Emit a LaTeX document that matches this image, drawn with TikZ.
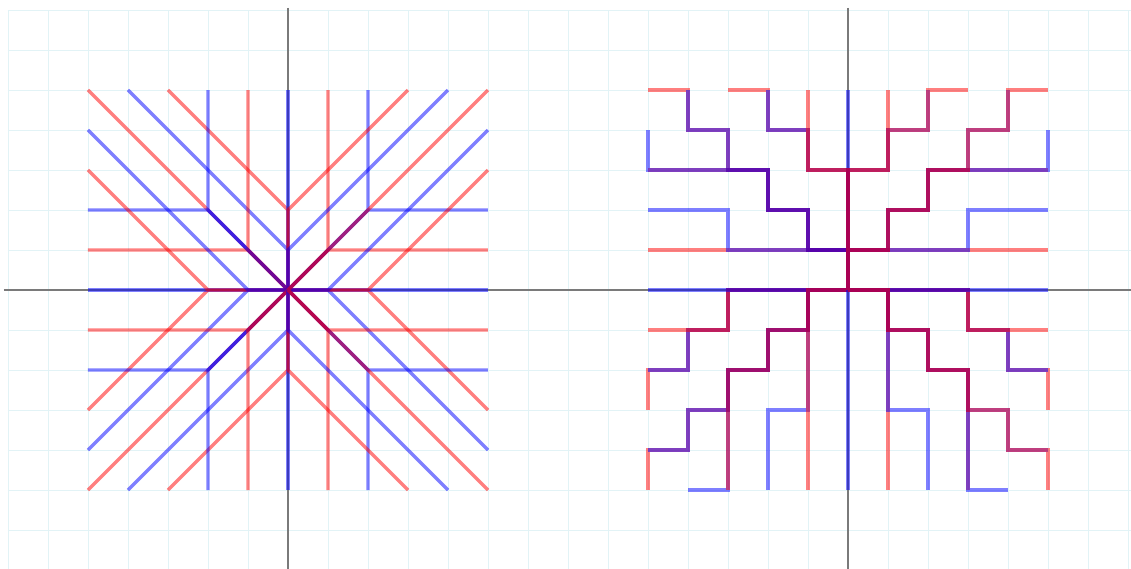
\documentclass[tikz,border=0pt]{standalone}
\usepackage{xcolor}
\usepackage{tikz}
\definecolor{GridCyan} {HTML}{E2F3F6}
\definecolor{AxisGray} {HTML}{7A7A7A}
\definecolor{TrailRed} {HTML}{FF0000}
\definecolor{TrailBlue}{HTML}{0000FF}

\begin{document}
\begin{tikzpicture}[
    gridline/.style={GridCyan,line width=0.6pt},
    axisline/.style={AxisGray,line width=1.1pt},
    trail/.style={line width=2.3pt,draw opacity=0.5}]
  \useasboundingbox (-7.2,-6.975) rectangle (21.075,7.25);
  \clip (-7.2,-6.975) rectangle (21.075,7.25);
  \fill[white] (-7.2,-6.975) rectangle (21.075,7.25);
  % grid and axes
  \draw[gridline] (-7,-7.5) grid (21.5,7);
  \draw[axisline] (-7.1,0) -- (21.1,0);
  \foreach \ox in {0,14}
    \draw[axisline] (\ox,7.05) -- (\ox,-7.1);
  % left: straight + diagonal paths (sides: top, left, right, bottom)
  \foreach \bx/\by/\dx/\dy in {-5/5/1/0, -5/-5/0/1, 5/-4/0/1, -4/-5/1/0}{
    \foreach \k in {0,...,9}{
      \pgfmathtruncatemacro{\x}{\bx+\k*\dx}
      \pgfmathtruncatemacro{\y}{\by+\k*\dy}
      \pgfmathtruncatemacro{\odd}{mod((\x)+(\y)+10,2)}
      \ifnum\odd=0 \def\pcol{TrailRed}\else\def\pcol{TrailBlue}\fi
      \pgfmathtruncatemacro{\nn}{min(abs(\x),abs(\y))}
      \pgfmathtruncatemacro{\sx}{(\x>0)-(\x<0)}
      \pgfmathtruncatemacro{\sy}{(\y>0)-(\y<0)}
      \ifnum\nn>2
        \pgfmathtruncatemacro{\kx}{(\x)-(\sx)*\nn}
        \pgfmathtruncatemacro{\ky}{(\y)-(\sy)*\nn}
      \else
        \pgfmathtruncatemacro{\kx}{(\sx)*\nn}
        \pgfmathtruncatemacro{\ky}{(\sy)*\nn}
      \fi
      \draw[trail,draw=\pcol] (\x,\y) -- (\kx,\ky) -- (0,0);
    }
  }
  % right: staircases, every quadrant a copy of the top-left one
  \begin{scope}[shift={(14,0)}]
    \foreach \bx/\by/\dx/\dy in {-5/5/1/0, -5/-5/0/1, 5/-4/0/1, -4/-5/1/0}{
      \foreach \k in {0,...,9}{
        \pgfmathtruncatemacro{\x}{\bx+\k*\dx}
        \pgfmathtruncatemacro{\y}{\by+\k*\dy}
        \pgfmathtruncatemacro{\odd}{mod((\x)+(\y)+10,2)}
        \ifnum\odd=0 \def\pcol{TrailRed}\else\def\pcol{TrailBlue}\fi
        \ifnum\x>0
          \ifnum\y<0 % bottom right: transposed
            \def\cp{\y}\def\cq{\x}\def\ta{0}\def\tb{1}\def\tc{1}\def\td{0}%
          \else % top right: mirrored
            \pgfmathtruncatemacro{\cp}{0-(\x)}\def\cq{\y}\def\ta{-1}\def\tb{0}\def\tc{0}\def\td{1}%
          \fi
        \else
          \ifnum\y<0 % bottom left: turned
            \def\cp{\y}\pgfmathtruncatemacro{\cq}{0-(\x)}\def\ta{0}\def\tb{1}\def\tc{-1}\def\td{0}%
          \else
            \def\cp{\x}\def\cq{\y}\def\ta{1}\def\tb{0}\def\tc{0}\def\td{1}%
          \fi
        \fi
        \foreach \rx/\ry/\route in {
          -5/5/{(-5,5)--(-4,5)--(-4,4)--(-3,4)--(-3,3)--(-2,3)--(-2,2)--(-1,2)--(-1,1)--(0,1)--(0,0)},
          -4/5/{(-4,5)--(-4,4)--(-3,4)--(-3,3)--(-2,3)--(-2,2)--(-1,2)--(-1,1)--(0,1)--(0,0)},
          -3/5/{(-3,5)--(-2,5)--(-2,4)--(-1,4)--(-1,3)--(0,3)--(0,0)},
          -2/5/{(-2,5)--(-2,4)--(-1,4)--(-1,3)--(0,3)--(0,0)},
          -1/5/{(-1,5)--(-1,3)--(0,3)--(0,0)},
          0/5/{(0,5)--(0,0)},
          -5/4/{(-5,4)--(-5,3)--(-2,3)--(-2,2)--(-1,2)--(-1,1)--(0,1)--(0,0)},
          -5/3/{(-5,3)--(-2,3)--(-2,2)--(-1,2)--(-1,1)--(0,1)--(0,0)},
          -5/2/{(-5,2)--(-3,2)--(-3,1)--(0,1)--(0,0)},
          -5/1/{(-5,1)--(0,1)--(0,0)},
          -5/0/{(-5,0)--(0,0)}%
        }{
          \ifnum\rx=\cp\relax
            \ifnum\ry=\cq\relax
              \draw[trail,draw=\pcol,cm={\ta,\tb,\tc,\td,(0,0)}] \route;
            \fi
          \fi
        }
      }
    }
  \end{scope}
\end{tikzpicture}
\end{document}
